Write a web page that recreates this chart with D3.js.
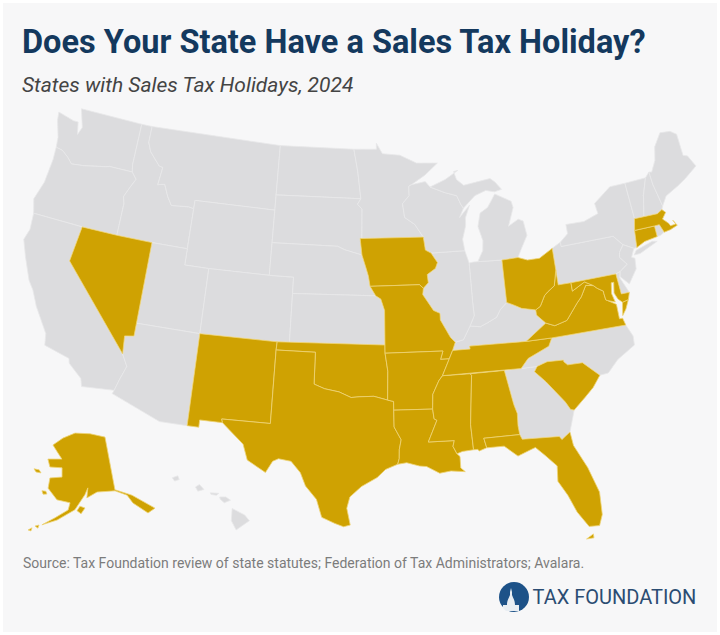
<!DOCTYPE html>
<html>
<head>
<meta charset="utf-8">
<title>Does Your State Have a Sales Tax Holiday?</title>
<script src="https://cdn.jsdelivr.net/npm/d3@7"></script>
<style>
  html, body { margin: 0; padding: 0; background: #fff; }
  text { font-family: Roboto, sans-serif; }
</style>
</head>
<body>
<script>
// state outlines, lon/lat
const WA = [[[-124.7,48.4],[-123.2,48.15],[-122.75,48.15],[-122.5,47.4],[-122.25,47.9],[-122.8,49],[-117.03,49],[-117.04,46.42],[-116.92,45.99],[-118.98,46],[-119.3,45.93],[-121.2,45.65],[-122.3,45.55],[-122.8,45.9],[-123.4,46.2],[-124,46.27],[-124.1,46.9],[-124.6,47.9]]];
const OR = [[[-124,46.27],[-123.4,46.2],[-122.8,45.9],[-122.3,45.55],[-121.2,45.65],[-119.3,45.93],[-118.98,46],[-116.92,45.99],[-116.46,45.6],[-116.85,45],[-117.2,44.4],[-117.03,44],[-117.03,42],[-120,42],[-124.2,42],[-124.55,42.85],[-124.1,44],[-123.95,45.5]]];
const CA = [[[-124.2,42],[-120,42],[-120.3,39.8],[-114.63,35],[-114.14,34.3],[-114.5,33.4],[-114.72,32.72],[-117.12,32.53],[-117.3,33],[-118.4,33.75],[-118.5,34.03],[-120.5,34.45],[-120.65,35.15],[-121.9,36.6],[-122.5,37.5],[-123,38],[-123.8,39.3],[-124.35,40.3],[-124.1,41]]];
const NV = [[[-120,42],[-117.03,42],[-114.04,42],[-114.04,37],[-114.04,36.2],[-114.75,36.1],[-114.63,35],[-120.3,39.8]]];
const ID = [[[-117.03,49],[-116.05,49],[-116.05,48],[-115.7,47.45],[-114.7,46.7],[-114.35,46.65],[-114.5,45.55],[-113.9,45.65],[-113.45,44.95],[-113,44.45],[-111.5,44.55],[-111.05,44.48],[-111.05,42],[-114.04,42],[-117.03,42],[-117.03,44],[-117.2,44.4],[-116.85,45],[-116.46,45.6],[-116.92,45.99],[-117.04,46.42]]];
const MT = [[[-116.05,49],[-104.05,49],[-104.05,45.94],[-104.05,45],[-111.05,45],[-111.05,44.48],[-111.5,44.55],[-113,44.45],[-113.45,44.95],[-113.9,45.65],[-114.5,45.55],[-114.35,46.65],[-114.7,46.7],[-115.7,47.45],[-116.05,48]]];
const WY = [[[-111.05,45],[-104.05,45],[-104.05,43],[-104.05,41],[-109.05,41],[-111.05,41],[-111.05,42],[-111.05,44.48]]];
const UT = [[[-114.04,42],[-111.05,42],[-111.05,41],[-109.05,41],[-109.05,37],[-114.04,37]]];
const CO = [[[-109.05,41],[-104.05,41],[-102.05,41],[-102.05,40],[-102.05,37],[-103,37],[-109.05,37]]];
const AZ = [[[-114.04,37],[-109.05,37],[-109.05,31.33],[-111.07,31.33],[-114.81,32.5],[-114.72,32.72],[-114.5,33.4],[-114.14,34.3],[-114.63,35],[-114.75,36.1],[-114.04,36.2]]];
const NM = [[[-109.05,37],[-103,37],[-103.04,36.5],[-103.06,32],[-106.62,32],[-106.53,31.78],[-108.2,31.78],[-108.2,31.33],[-109.05,31.33]]];
const ND = [[[-104.05,49],[-97.23,49],[-96.85,47.6],[-96.56,45.94],[-104.05,45.94]]];
const SD = [[[-104.05,45.94],[-96.56,45.94],[-96.85,45.6],[-96.45,45.3],[-96.45,43.5],[-96.6,43.5],[-96.44,42.49],[-97.9,42.8],[-98.5,43],[-104.05,43]]];
const NE = [[[-104.05,43],[-98.5,43],[-97.9,42.8],[-96.44,42.49],[-96.1,41.7],[-95.9,41.2],[-95.77,40.58],[-95.31,40],[-102.05,40],[-102.05,41],[-104.05,41]]];
const KS = [[[-102.05,40],[-95.31,40],[-94.9,39.8],[-94.61,39.1],[-94.62,37],[-103,37],[-102.05,37]]];
const OK = [[[-103,37],[-94.62,37],[-94.62,36.5],[-94.43,35.4],[-94.48,33.64],[-95.5,33.88],[-96.6,33.85],[-97.2,33.8],[-98.1,34.13],[-99.2,34.3],[-100,34.56],[-100,36.5],[-103.04,36.5]]];
const TX = [[[-106.62,32],[-103.06,32],[-103.04,36.5],[-100,36.5],[-100,34.56],[-99.2,34.3],[-98.1,34.13],[-97.2,33.8],[-96.6,33.85],[-95.5,33.88],[-94.48,33.64],[-94.04,33.55],[-94.04,33.02],[-94.04,31.99],[-93.55,31.2],[-93.7,30.6],[-93.72,30.05],[-93.84,29.7],[-94.7,29.4],[-95.3,28.9],[-96.4,28.35],[-97.2,27.7],[-97.4,27],[-97.15,25.96],[-97.6,25.85],[-98.2,26.05],[-99.1,26.4],[-99.5,27.5],[-100.3,28.3],[-100.7,29.1],[-101.4,29.77],[-102.3,29.88],[-102.7,29.7],[-103.15,28.98],[-104.5,29.65],[-104.9,30.6],[-106,31.4],[-106.53,31.78]]];
const MN = [[[-97.23,49],[-95.15,49],[-95.15,49.38],[-94.6,48.72],[-93,48.6],[-91.5,48.07],[-89.6,48],[-90.8,47.3],[-92.05,46.75],[-92.29,46.66],[-92.29,46.08],[-92.9,45.6],[-92.75,44.75],[-91.9,44.3],[-91.22,43.5],[-96.45,43.5],[-96.45,45.3],[-96.85,45.6],[-96.56,45.94],[-96.85,47.6]]];
const IA = [[[-96.45,43.5],[-91.22,43.5],[-91.1,42.7],[-90.64,42.5],[-90.15,41.9],[-90.35,41.55],[-91.05,41.2],[-91,40.7],[-91.42,40.38],[-91.73,40.61],[-95.77,40.58],[-95.9,41.2],[-96.1,41.7],[-96.44,42.49],[-96.6,43.5]]];
const MO = [[[-95.77,40.58],[-91.73,40.61],[-91.42,40.38],[-91.5,40],[-90.7,39],[-90.2,38.8],[-90.2,38.4],[-89.5,37.3],[-89.15,36.98],[-89.4,36.5],[-89.7,36],[-90.37,36],[-90.15,36.5],[-94.62,36.5],[-94.62,37],[-94.61,39.1],[-94.9,39.8],[-95.31,40]]];
const AR = [[[-94.62,36.5],[-90.15,36.5],[-90.37,36],[-89.7,36],[-90.3,35],[-90.6,34.7],[-91.1,33.9],[-91.17,33],[-94.04,33.02],[-94.04,33.55],[-94.48,33.64],[-94.43,35.4]]];
const LA = [[[-94.04,33.02],[-91.17,33],[-91.1,32.4],[-90.9,32.3],[-91.6,31],[-89.73,31],[-89.85,30.65],[-89.6,30.18],[-89.4,30],[-89.4,29.3],[-89.1,29.05],[-90.1,29.15],[-90.9,29.05],[-91.8,29.5],[-92.3,29.55],[-93.2,29.78],[-93.84,29.7],[-93.72,30.05],[-93.7,30.6],[-93.55,31.2],[-94.04,31.99]]];
const MS = [[[-90.3,35],[-88.2,35],[-88.1,34.9],[-88.47,31.9],[-88.4,30.35],[-89.2,30.3],[-89.6,30.18],[-89.85,30.65],[-89.73,31],[-91.6,31],[-90.9,32.3],[-91.1,32.4],[-91.17,33],[-91.1,33.9],[-90.6,34.7]]];
const AL = [[[-88.2,35],[-85.6,35],[-85.18,32.87],[-85,32.3],[-85.05,31.55],[-85,31],[-87.6,31],[-87.45,30.4],[-88,30.25],[-88.1,30.35],[-88.4,30.35],[-88.47,31.9],[-88.1,34.9]]];
const GA = [[[-85.6,35],[-84.32,35],[-83.1,35],[-83.35,34.7],[-82.6,34],[-81.4,32.6],[-81.1,32.1],[-80.85,32.03],[-81.4,30.75],[-82.05,30.36],[-82.2,30.57],[-84.86,30.7],[-85,31],[-85.05,31.55],[-85,32.3],[-85.18,32.87]]];
const FL = [[[-87.6,31],[-85,31],[-84.86,30.7],[-82.2,30.57],[-82.05,30.36],[-81.4,30.75],[-81.3,29.9],[-80.55,28.4],[-80.03,26.8],[-80.1,25.4],[-80.4,24.75],[-81.1,24.8],[-81.75,25.8],[-82.2,26.9],[-82.75,27.85],[-82.65,28.8],[-83.4,29.55],[-84,30.1],[-84.35,30],[-85.3,29.7],[-86.2,30.4],[-87.45,30.4]],[[-81.4,24.05],[-80.9,24.3],[-80.9,24.05]]];
const SC = [[[-83.35,34.7],[-83.1,35],[-82.3,35.2],[-81.05,35.15],[-81.05,35.05],[-80.8,34.82],[-79.67,34.8],[-78.55,33.86],[-79.2,33.2],[-79.9,32.7],[-80.85,32.03],[-81.1,32.1],[-81.4,32.6],[-82.6,34]]];
const NC = [[[-84.32,35],[-83.1,35],[-82.3,35.2],[-81.05,35.15],[-81.05,35.05],[-80.8,34.82],[-79.67,34.8],[-78.55,33.86],[-77.9,33.9],[-77,34.6],[-75.55,35.25],[-75.5,35.8],[-75.87,36.55],[-81.68,36.59],[-82,36.12],[-83.7,35.55]]];
const TN = [[[-90.3,35],[-89.7,36],[-89.4,36.5],[-88.05,36.5],[-88.07,36.68],[-83.68,36.6],[-81.68,36.59],[-82,36.12],[-83.7,35.55],[-84.32,35]]];
const KY = [[[-89.4,36.5],[-89.15,36.98],[-88.5,37.1],[-87.9,37.9],[-87.1,37.8],[-86.5,38],[-85.75,38.27],[-85.4,38.7],[-84.82,39.1],[-84.3,38.9],[-83.7,38.63],[-82.6,38.42],[-82.6,38.1],[-81.97,37.54],[-83.68,36.6],[-88.07,36.68],[-88.05,36.5]]];
const VA = [[[-83.68,36.6],[-81.68,36.59],[-75.87,36.55],[-76,37],[-76.25,37],[-76.25,37.9],[-76.9,38.25],[-77,38.3],[-77.05,38.7],[-77.05,38.85],[-77.5,39.1],[-77.75,39.3],[-78.35,39.4],[-78.87,38.76],[-79.3,38.42],[-80.3,37.5],[-81.3,37.3],[-81.97,37.54]],[[-75.95,37.15],[-75.75,37.95],[-75.25,38.03],[-75.6,37.5]]];
const WV = [[[-82.6,38.42],[-82.2,38.6],[-81.75,39.2],[-81.45,39.4],[-80.85,39.7],[-80.52,40.64],[-80.52,39.72],[-79.48,39.72],[-79.48,39.2],[-78.4,39.62],[-77.75,39.3],[-78.35,39.4],[-78.87,38.76],[-79.3,38.42],[-80.3,37.5],[-81.3,37.3],[-81.97,37.54],[-82.6,38.1]]];
const OH = [[[-84.82,39.1],[-84.8,41.7],[-83.45,41.73],[-82.7,41.5],[-81.7,41.5],[-80.52,41.98],[-80.52,40.64],[-80.85,39.7],[-81.45,39.4],[-81.75,39.2],[-82.2,38.6],[-82.6,38.42],[-83.7,38.63],[-84.3,38.9]]];
const IN = [[[-87.53,41.72],[-87.2,41.76],[-86.8,41.76],[-84.8,41.7],[-84.82,39.1],[-85.4,38.7],[-85.75,38.27],[-86.5,38],[-87.1,37.8],[-87.9,37.9],[-87.5,38.5],[-87.53,39.35]]];
const IL = [[[-90.64,42.5],[-87.8,42.5],[-87.53,41.72],[-87.53,39.35],[-87.5,38.5],[-87.9,37.9],[-88.5,37.1],[-89.15,36.98],[-89.5,37.3],[-90.2,38.4],[-90.2,38.8],[-90.7,39],[-91.5,40],[-91.42,40.38],[-91,40.7],[-91.05,41.2],[-90.35,41.55],[-90.15,41.9]]];
const WI = [[[-92.29,46.66],[-92.05,46.75],[-90.8,46.9],[-90.4,46.55],[-89.1,46.14],[-88.1,45.9],[-87.8,45.35],[-87.6,45.1],[-88,44.55],[-87.05,45.25],[-87.5,44.5],[-87.55,44],[-87.9,43.2],[-87.8,42.5],[-90.64,42.5],[-91.1,42.7],[-91.22,43.5],[-91.9,44.3],[-92.75,44.75],[-92.9,45.6],[-92.29,46.08]]];
const MI = [[[-86.8,41.76],[-84.8,41.7],[-83.45,41.73],[-83.1,42.2],[-82.45,43],[-82.6,43.9],[-83,44.05],[-83.9,43.7],[-83.3,44.8],[-83.4,45.2],[-84.75,45.77],[-85.1,45.4],[-85.5,45],[-86.2,44.7],[-86.5,43.9],[-86.2,43],[-86.3,42.4]],[[-90.4,46.55],[-89.1,46.14],[-88.1,45.9],[-87.8,45.35],[-87.6,45.1],[-86.5,45.8],[-85.5,46.05],[-84.75,45.9],[-84.1,46],[-84.6,46.5],[-85,46.75],[-86,46.65],[-87.4,46.5],[-88,46.9],[-88.2,47.4],[-87.8,47.45],[-89,46.95]]];
const PA = [[[-80.52,41.98],[-79.76,42.27],[-79.76,42],[-75.35,42],[-74.7,41.36],[-75.13,40.95],[-75.2,40.65],[-74.72,40.15],[-75.42,39.8],[-75.79,39.72],[-79.48,39.72],[-80.52,39.72],[-80.52,40.64]]];
const NY = [[[-79.76,42.27],[-79.76,42],[-75.35,42],[-74.7,41.36],[-73.9,41],[-73.65,41],[-73.5,42.05],[-73.27,42.75],[-73.35,45],[-74.7,45],[-76.3,44.2],[-76.2,43.55],[-77.5,43.25],[-79.05,43.27],[-79.05,42.7]],[[-74,40.6],[-73.75,40.85],[-72.3,41.15],[-71.9,41.07],[-73.5,40.6]]];
const NJ = [[[-74.7,41.36],[-73.9,41],[-74.25,40.5],[-74,40.4],[-74.1,39.75],[-74.9,38.95],[-75.5,39.5],[-75.42,39.8],[-74.72,40.15],[-75.2,40.65],[-75.13,40.95]]];
const DE = [[[-75.79,39.72],[-75.42,39.8],[-75.55,39.45],[-75.05,38.45],[-75.7,38.46]]];
const MD = [[[-79.48,39.72],[-75.79,39.72],[-75.7,38.46],[-75.05,38.45],[-75.25,38.03],[-75.75,37.95],[-76.05,38.2],[-76.25,38.6],[-76.1,39.25],[-76.3,39.25],[-76.45,38.6],[-76.3,38.05],[-76.9,38.25],[-77,38.3],[-77.05,38.7],[-77.05,38.85],[-77.5,39.1],[-77.75,39.3],[-78.4,39.62],[-79.48,39.2]]];
const CT = [[[-73.65,41],[-73.5,42.05],[-71.8,42.02],[-71.8,41.35],[-72.9,41.25]]];
const RI = [[[-71.8,42.02],[-71.38,42.02],[-71.15,41.5],[-71.5,41.37],[-71.8,41.35]]];
const MA = [[[-73.5,42.05],[-73.27,42.75],[-72.46,42.73],[-71.3,42.7],[-70.85,42.87],[-70.6,42.65],[-71,42.3],[-70.6,41.95],[-70.5,41.78],[-70.05,41.8],[-70.2,42.07],[-69.95,41.7],[-70.6,41.55],[-71.15,41.5],[-71.38,42.02],[-71.8,42.02]]];
const VT = [[[-73.27,42.75],[-72.46,42.73],[-72.05,44],[-71.5,45.01],[-73.35,45]]];
const NH = [[[-72.46,42.73],[-71.3,42.7],[-70.85,42.87],[-70.7,43.07],[-71.03,44.5],[-71.08,45.3],[-71.5,45.01],[-72.05,44]]];
const ME = [[[-70.7,43.07],[-70.2,43.6],[-69,44],[-68.2,44.3],[-67,44.85],[-67.45,45.6],[-67.8,45.7],[-67.8,47.07],[-68.3,47.36],[-69.2,47.45],[-70,46.7],[-70.3,45.9],[-70.85,45.25],[-71.08,45.3],[-71.03,44.5]]];
const AK = [[[-139.8,69.6],[-147.1,70.9],[-155.3,71.4],[-162,70.5],[-167,69.1],[-164.2,67.7],[-162.2,66.6],[-168.6,66.4],[-167.3,65],[-162,65],[-161.9,63.3],[-166.8,63],[-167.1,61.1],[-163.5,59.1],[-158.8,58.6],[-159.5,57.3],[-163.8,55.8],[-167.8,54.3],[-163.1,55.4],[-157.2,57.3],[-153.3,59.9],[-151.9,61.1],[-152.7,59.3],[-148.7,60.1],[-142.2,59.6],[-138.5,58.2],[-137.5,56.5],[-134.1,53.8],[-131.5,54.1],[-136.9,57.9],[-142.1,59.8]],[[-156.5,57.1],[-155.4,57.9],[-153.7,57.5],[-155.2,56.5]],[[-173.9,64.2],[-171.7,64.2],[-170.7,63.7],[-172.8,63.7]],[[-169.3,60.5],[-167.8,60.5],[-167.3,60],[-168.7,59.9]],[[-169.9,53.9],[-168.7,54.2],[-168.9,53.6]],[[-171.8,53],[-170.7,53.5],[-170.9,52.9]]];
const HI = [[[-155.9,20.25],[-155.1,19.85],[-154.8,19.5],[-155.65,18.95],[-155.95,19.5]],[[-156.7,20.95],[-156.3,20.95],[-156,20.75],[-156.4,20.6],[-156.65,20.8]],[[-157.3,21.2],[-156.75,21.17],[-156.9,21.05],[-157.25,21.1]],[[-158.25,21.55],[-158,21.7],[-157.7,21.4],[-158.1,21.3]],[[-159.75,22.1],[-159.4,22.23],[-159.3,22],[-159.6,21.9]]];

const stateShapes = {WA,OR,CA,NV,ID,MT,WY,UT,CO,AZ,NM,ND,SD,NE,KS,OK,TX,MN,IA,MO,AR,LA,MS,AL,GA,FL,SC,NC,TN,KY,VA,WV,OH,IN,IL,WI,MI,PA,NY,NJ,DE,MD,CT,RI,MA,VT,NH,ME,AK,HI};

// states with a holiday in 2024
const holidayStates = ["AK","AL","AR","CT","FL","IA","LA","MA","MD","MO","MS","NM","NV","OH","OK","SC","TN","TX","VA","WV"];

const titleText = "Does Your State Have a Sales Tax Holiday?";
const subtitleText = "States with Sales Tax Holidays, 2024";
const sourceText = "Source: Tax Foundation review of state statutes; Federation of Tax Administrators; Avalara.";
const logoText = "TAX FOUNDATION";

const width = 720, height = 635;

const svg = d3.select("body").append("svg")
    .attr("width", width)
    .attr("height", height)
    .style("display", "block");

svg.append("rect")
    .attr("x", 3).attr("y", 3)
    .attr("width", width - 6).attr("height", height - 6)
    .attr("fill", "#f7f7f8");

// lower 48 and the two insets each get their own projection
const lower48 = d3.geoConicEqualArea().rotate([96, 0]).parallels([29.5, 45.5])
    .scale(932).translate([367.2, 400.2]);
const alaska = d3.geoConicEqualArea().rotate([160, 0]).center([-2, 58.5]).parallels([55, 65])
    .scale(312).translate([61, 503.3]);
const hawaii = d3.geoConicEqualArea().rotate([157, 0]).center([-3, 19.9]).parallels([8, 18])
    .scale(950).translate([168, 514]);

function projectionFor(code) {
    if (code === "AK") return alaska;
    if (code === "HI") return hawaii;
    return lower48;
}

function toFeature(code) {
    const polys = stateShapes[code].map(function(ring) {
        let closed = ring.concat([ring[0]]);
        // d3 wants clockwise rings, otherwise it fills the rest of the globe
        if (d3.geoArea({type: "Polygon", coordinates: [closed]}) > 2 * Math.PI) closed = closed.slice().reverse();
        return [closed];
    });
    return {type: "Feature", id: code, geometry: {type: "MultiPolygon", coordinates: polys}};
}

const codes = Object.keys(stateShapes);
// grey first so the gold borders sit on top
codes.sort(function(a, b) {
    return holidayStates.includes(a) - holidayStates.includes(b);
});

svg.append("g").selectAll("path")
    .data(codes.map(toFeature))
    .enter().append("path")
    .attr("d", function(d) { return d3.geoPath(projectionFor(d.id))(d); })
    .attr("fill", function(d) { return holidayStates.includes(d.id) ? "#cfa202" : "#dcdcde"; })
    .attr("stroke", function(d) { return holidayStates.includes(d.id) ? "#efd477" : "#e8e8ea"; })
    .attr("stroke-width", 0.8)
    .attr("stroke-linejoin", "round");

svg.append("text").text(titleText)
    .attr("x", 22).attr("y", 53)
    .attr("font-size", 32.5).attr("font-weight", 700).attr("fill", "#14395e");

svg.append("text").text(subtitleText)
    .attr("x", 22).attr("y", 92)
    .attr("font-size", 21).attr("font-style", "italic").attr("fill", "#444");

svg.append("text").text(sourceText)
    .attr("x", 23).attr("y", 568)
    .attr("font-size", 14).attr("fill", "#7c7c7c");

// logo
const logo = svg.append("g").attr("transform", "translate(514,597)");
logo.append("circle").attr("r", 15).attr("fill", "#1d5288");
logo.append("path")
    .attr("d", "M-11,11 L-11,8 L-7,8 C-7,3 -5,1 -4,-2 L-4,-5 L-3,-9 L-2,-5 L-2,-2 C-1,1 1,3 1,8 L5,8 L5,14 L-8,14 Z")
    .attr("fill", "#e9eef3");

svg.append("text").text(logoText)
    .attr("x", 532.5).attr("y", 604)
    .attr("font-size", 20).attr("fill", "#2b4c72");
</script>
</body>
</html>
